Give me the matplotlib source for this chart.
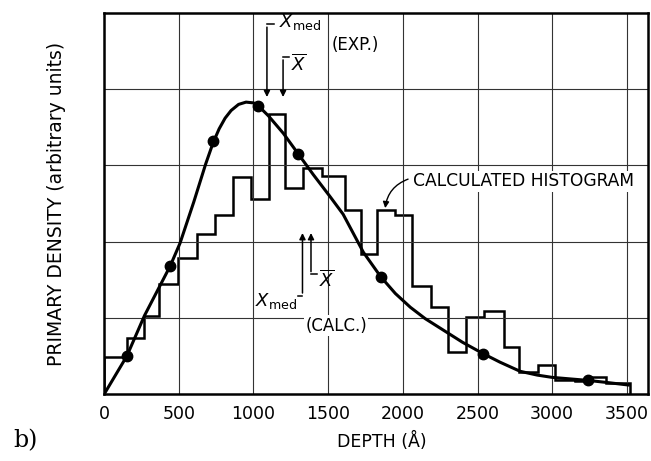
import matplotlib.pyplot as plt
import numpy as np

plt.rcParams['font.family'] = 'DejaVu Sans'
plt.rcParams['mathtext.fontset'] = 'dejavusans'

# histogram (calculated) - bin edges and heights
hist_edges = [0, 156, 270, 370, 497, 620, 743, 861, 982, 1106, 1211, 1330, 1457,
              1613, 1720, 1825, 1948, 2060, 2187, 2305, 2423, 2546, 2677, 2780,
              2907, 3018, 3150, 3270, 3360, 3520]
hist_vals = [0.49, 0.73, 1.03, 1.45, 1.78, 2.10, 2.35, 2.85, 2.56, 3.67, 2.70, 2.96,
             2.86, 2.41, 1.84, 2.42, 2.35, 1.42, 1.14, 0.55, 1.01, 1.09, 0.62, 0.29,
             0.38, 0.19, 0.17, 0.22, 0.14]

# experimental curve
curve_x = [0, 152, 270, 442, 508, 600, 680, 730, 770, 810, 850, 900, 950, 1000,
           1033, 1100, 1200, 1300, 1400, 1513, 1600, 1736, 1852, 1950, 2050, 2150,
           2271, 2400, 2539, 2650, 2785, 2900, 3000, 3120, 3242, 3380, 3510]
curve_y = [0.0, 0.50, 1.03, 1.68, 1.98, 2.52, 3.02, 3.30, 3.48, 3.62, 3.72, 3.80,
           3.83, 3.82, 3.78, 3.65, 3.42, 3.15, 2.88, 2.59, 2.36, 1.86, 1.54, 1.32,
           1.14, 0.99, 0.84, 0.68, 0.53, 0.42, 0.30, 0.25, 0.22, 0.20, 0.18, 0.15,
           0.12]
dots_x = [152, 442, 730, 1033, 1300, 1852, 2539, 3242]
dots_y = [0.50, 1.68, 3.32, 3.78, 3.15, 1.54, 0.53, 0.18]

xticks = [0, 500, 1000, 1500, 2000, 2500, 3000, 3500]

fig = plt.figure(figsize=(6.51, 4.61), dpi=100)
ax = fig.add_axes([0.160, 0.145, 0.835, 0.827])

ax.stairs(hist_vals, hist_edges, color='black', lw=1.8, baseline=0)
ax.plot(curve_x, curve_y, color='black', lw=2.2)
ax.plot(dots_x, dots_y, 'o', color='black', ms=7.5)

ax.set_xlim(0, 3640)
ax.set_ylim(0, 5)
ax.set_xticks(xticks)
ax.set_xticklabels([str(t) for t in xticks], fontsize=12.5)
ax.set_yticks([1, 2, 3, 4])
ax.set_yticklabels([])
ax.tick_params(length=0, pad=8)
ax.grid(True, color='#333333', lw=0.8)
for s in ax.spines.values():
    s.set_linewidth(1.8)

ax.set_xlabel('DEPTH (Å)', fontsize=12.5)
ax.xaxis.set_label_coords(0.51, -0.10)
ax.set_ylabel('PRIMARY DENSITY (arbitrary units)', fontsize=13.5)
ax.yaxis.set_label_coords(-0.070, 0.5)

arr = dict(arrowstyle='-|>', lw=1.1, color='black', mutation_scale=9)

# experimental markers (pointing down)
ax.annotate('', xy=(1090, 3.86), xytext=(1090, 4.85), arrowprops=arr)
ax.plot([1090, 1135], [4.85, 4.85], color='black', lw=1.1)
ax.text(1170, 4.88, r'$X_{\rm med}$', fontsize=13, va='center', ha='left')
ax.text(1680, 4.58, '(EXP.)', fontsize=12, va='center', ha='center')
ax.annotate('', xy=(1198, 3.86), xytext=(1198, 4.42), arrowprops=arr)
ax.plot([1198, 1240], [4.42, 4.42], color='black', lw=1.1)
ax.text(1250, 4.33, r'$\overline{X}$', fontsize=13, va='center', ha='left')

# calculated markers (pointing up)
ax.annotate('', xy=(1328, 2.15), xytext=(1328, 1.29), arrowprops=arr)
ax.plot([1295, 1328], [1.29, 1.29], color='black', lw=1.1)
ax.text(1290, 1.22, r'$X_{\rm med}$', fontsize=13, va='center', ha='right')
ax.annotate('', xy=(1385, 2.15), xytext=(1385, 1.57), arrowprops=arr)
ax.plot([1385, 1425], [1.57, 1.57], color='black', lw=1.1)
ax.text(1440, 1.50, r'$\overline{X}$', fontsize=13, va='center', ha='left')
ax.text(1553, 0.90, '(CALC.)', fontsize=12, va='center', ha='center',
        bbox=dict(fc='white', ec='none', pad=1))

ax.text(2065, 2.79, 'CALCULATED HISTOGRAM', fontsize=12.3, va='center', ha='left',
        bbox=dict(fc='white', ec='none', pad=1))
ax.annotate('', xy=(1882, 2.44), xytext=(2035, 2.82),
            arrowprops=dict(arrowstyle='-|>', lw=1.0, color='black',
                            mutation_scale=9, connectionstyle='arc3,rad=0.3',
                            shrinkA=0, shrinkB=0))

fig.text(0.02, 0.03, 'b)', fontsize=17, family='DejaVu Serif')

fig.savefig('out.png', dpi=100)
